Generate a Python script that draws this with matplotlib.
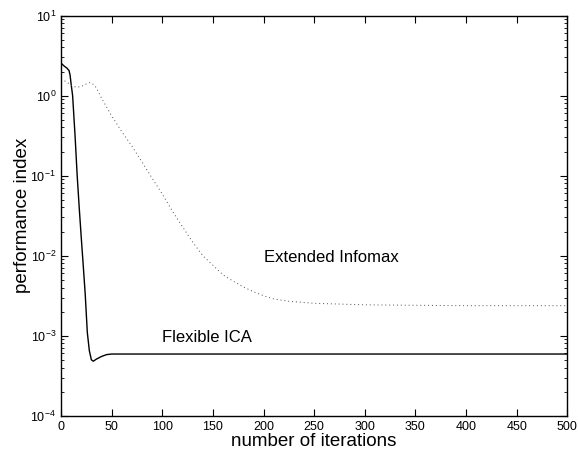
import numpy as np
import matplotlib
matplotlib.use('Agg')
from matplotlib import pyplot as plt
from matplotlib.ticker import LogLocator, NullFormatter

plt.rcParams['font.family'] = ['Liberation Sans', 'DejaVu Sans']
plt.rcParams['mathtext.fontset'] = 'custom'
plt.rcParams['mathtext.rm'] = 'Liberation Sans'
plt.rcParams['mathtext.it'] = 'Liberation Sans:italic'

# Flexible ICA (solid)
flex_iter = [0, 3, 6, 8, 9, 10, 11.5, 14, 16, 18, 20, 22, 24, 26, 28, 30, 32, 35, 40, 45, 50, 100, 200, 300, 400, 500]
flex_perf = [2.55, 2.35, 2.2, 2.05, 1.8, 1.4, 1.0, 0.3, 0.1, 0.04, 0.017, 7.5e-3, 3.2e-3, 1.1e-3,
             6.5e-4, 5.0e-4, 4.8e-4, 5.1e-4, 5.5e-4, 5.8e-4, 5.9e-4, 5.9e-4, 5.9e-4, 5.9e-4, 5.9e-4, 5.9e-4]

# Extended Infomax (dotted)
ext_iter = [0, 5, 10, 15, 20, 25, 29, 32, 35, 40, 50, 60, 70, 80, 90, 100, 110, 120, 130, 140,
            150, 160, 170, 180, 190, 200, 210, 225, 250, 300, 400, 500]
ext_perf = [1.6, 1.5, 1.35, 1.27, 1.3, 1.4, 1.46, 1.38, 1.25, 0.93, 0.56, 0.355, 0.234, 0.148, 0.093,
            0.059, 0.036, 0.023, 0.0148, 0.01, 7.6e-3, 5.75e-3, 4.8e-3, 4.07e-3, 3.55e-3, 3.16e-3,
            2.88e-3, 2.69e-3, 2.54e-3, 2.43e-3, 2.37e-3, 2.37e-3]

fig = plt.figure(figsize=(5.78, 4.59), dpi=100)
ax = fig.add_axes([0.1055, 0.0943, 0.876, 0.8717])

ax.plot(flex_iter, flex_perf, color='black', linewidth=1.0)
ax.plot(ext_iter, ext_perf, color='0.3', linewidth=0.7, linestyle=(0, (1, 3)))

ax.set_yscale('log')
ax.set_xlim(0, 500)
ax.set_ylim(1e-4, 1e1)
ax.set_xticks(np.arange(0, 501, 50))
ax.yaxis.set_major_locator(LogLocator(base=10, numticks=10))
ax.yaxis.set_minor_locator(LogLocator(base=10, subs=np.arange(2, 10), numticks=20))
ax.yaxis.set_minor_formatter(NullFormatter())

ax.tick_params(which='both', direction='in', top=True, right=True, labelsize=9)
ax.tick_params(which='major', length=5, width=0.8)
ax.tick_params(which='minor', length=2.5, width=0.6)
for s in ax.spines.values():
    s.set_linewidth(1.0)

ax.set_xlabel('number of iterations', fontsize=13.5, labelpad=0)
ax.set_ylabel('performance index', fontsize=13.5, labelpad=-0.5)

ax.text(200, 9.4e-3, 'Extended Infomax', fontsize=12, va='center', ha='left')
ax.text(100, 9.6e-4, 'Flexible ICA', fontsize=12, va='center', ha='left')

fig.savefig('out.png', dpi=100)
